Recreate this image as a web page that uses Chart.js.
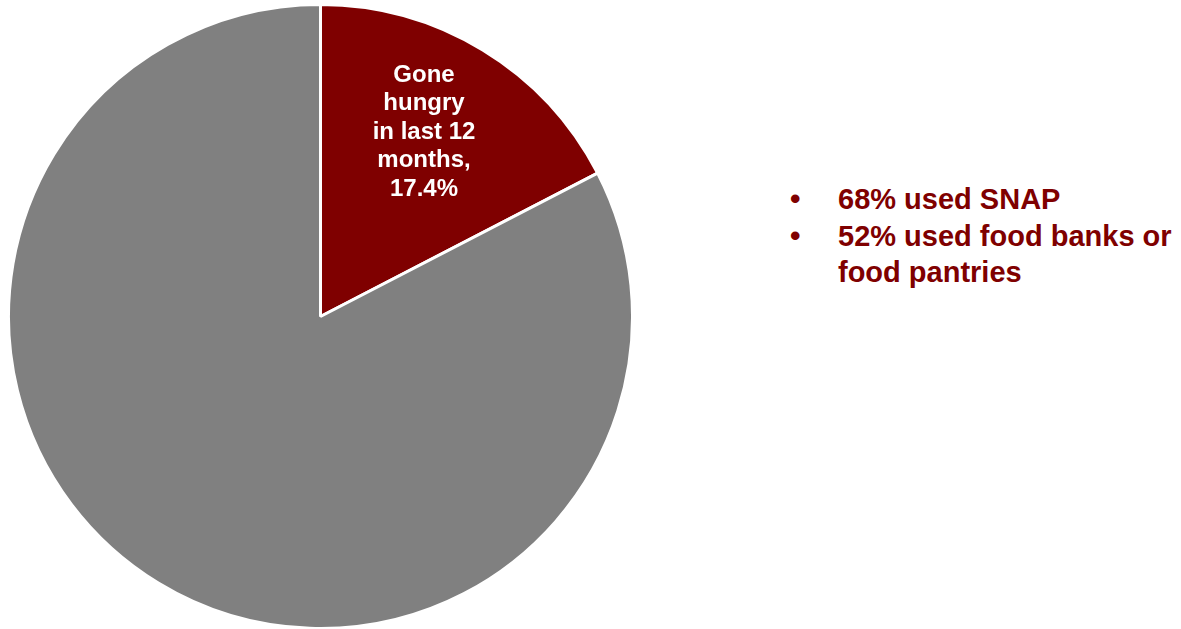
<!DOCTYPE html>
<html>
<head>
<meta charset="utf-8">
<script src="https://cdn.jsdelivr.net/npm/chart.js@4.4.1/dist/chart.umd.min.js"></script>
<style>
  html, body { margin: 0; padding: 0; background: #fff; }
  body { width: 1181px; height: 629px; position: relative; overflow: hidden; font-family: "Liberation Sans", Arial, sans-serif; }
  #pie-wrap { position: absolute; left: 7px; top: 3px; width: 627px; height: 627px; }
  #notes { position: absolute; left: 786px; top: 181px; margin: 0; padding: 0; list-style: none; color: #7f0000; font-weight: bold; font-size: 29px; line-height: 36.5px; white-space: nowrap; }
  #notes li { position: relative; padding-left: 52px; }
  #notes li::before { content: "\2022"; position: absolute; left: 4px; top: 0; font-size: 30px; }
</style>
</head>
<body>
<div id="pie-wrap"><canvas id="pie"></canvas></div>
<ul id="notes"></ul>
<script>
// datos
const categories = ['Gone hungry in last 12 months', 'Not gone hungry'];
const values = [17.4, 82.6];
const sliceLabel = ['Gone', 'hungry', 'in last 12', 'months,', '17.4%'];
const notes = ['68% used SNAP', '52% used food banks or<br>food pantries'];

const colors = ['#7f0000', '#808080'];

const ul = document.getElementById('notes');
notes.forEach(n => {
  const li = document.createElement('li');
  li.innerHTML = n;
  ul.appendChild(li);
});

// etiqueta dentro del sector rojo
const sliceText = {
  id: 'sliceText',
  afterDatasetsDraw(chart) {
    const arc = chart.getDatasetMeta(0).data[0];
    if (!arc) return;
    const { x, y, startAngle, endAngle, outerRadius } = arc.getProps(['x', 'y', 'startAngle', 'endAngle', 'outerRadius'], true);
    const mid = (startAngle + endAngle) / 2;
    const r = outerRadius * 0.70;
    const cx = x + Math.cos(mid) * r - 10;
    const cy = y + Math.sin(mid) * r + 2;
    const ctx = chart.ctx;
    ctx.save();
    ctx.fillStyle = '#ffffff';
    ctx.font = 'bold 24px "Liberation Sans", Arial, sans-serif';
    ctx.textAlign = 'center';
    ctx.textBaseline = 'middle';
    const lh = 28.5;
    const top = cy - (sliceLabel.length - 1) * lh / 2;
    sliceLabel.forEach((t, i) => ctx.fillText(t, cx, top + i * lh));
    ctx.restore();
  }
};

new Chart(document.getElementById('pie'), {
  type: 'pie',
  data: {
    labels: categories,
    datasets: [{
      data: values,
      backgroundColor: colors,
      borderColor: '#ffffff',
      borderWidth: 3
    }]
  },
  options: {
    responsive: true,
    maintainAspectRatio: false,
    animation: false,
    layout: { padding: 0 },
    plugins: {
      legend: { display: false },
      tooltip: { enabled: false }
    }
  },
  plugins: [sliceText]
});
</script>
</body>
</html>
